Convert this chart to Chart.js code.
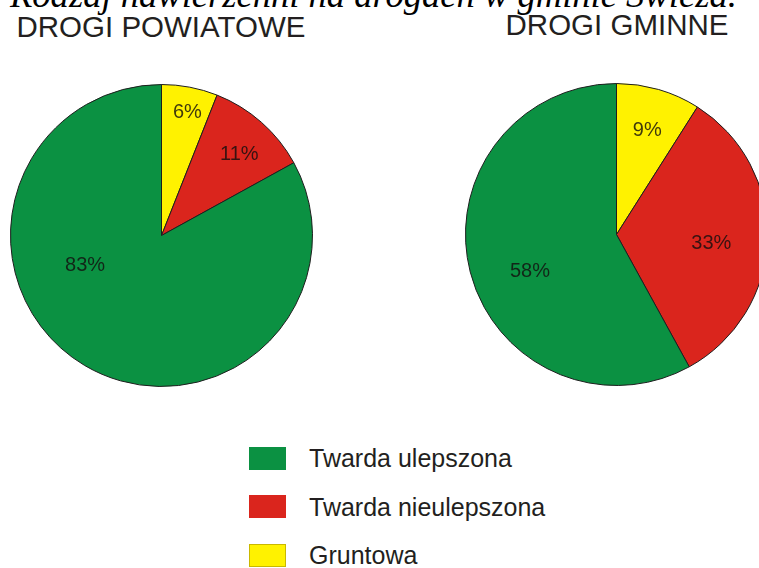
<!DOCTYPE html>
<html>
<head>
<meta charset="utf-8">
<script src="https://cdn.jsdelivr.net/npm/chart.js@4.4.1/dist/chart.umd.min.js"></script>
<style>
  html, body { margin: 0; padding: 0; background: #fff; }
  body { width: 759px; height: 568px; overflow: hidden; position: relative; font-family: "Liberation Sans", Arial, sans-serif; color: #231f20; }
  #title { position: absolute; left: 10px; white-space: nowrap; font-family: "Liberation Serif", "Times New Roman", serif; font-style: italic; line-height: 1; color: #000; }
  .sub { position: absolute; font-size: 29.5px; line-height: 29px; white-space: nowrap; transform: translateX(-50%); }
  .pie { position: absolute; width: 303px; height: 303px; }
  #legend { position: absolute; left: 249px; top: 446px; }
  .row { display: flex; align-items: center; height: 24px; margin-bottom: 24.5px; }
  .box { width: 37px; height: 23px; box-sizing: border-box; margin-right: 23px; }
  .row span { font-size: 25px; line-height: 24px; white-space: nowrap; }
</style>
</head>
<body>
<div id="title">Rodzaj nawierzchni na drogach w gminie Świeża.</div>
<div class="sub" style="left:161px; top:12px;">DROGI POWIATOWE</div>
<div class="sub" style="left:617px; top:10px;">DROGI GMINNE</div>
<div class="pie" style="left:10px; top:84px;"><canvas id="pieLeft" width="303" height="303"></canvas></div>
<div class="pie" style="left:465px; top:83px;"><canvas id="pieRight" width="303" height="303"></canvas></div>
<div id="legend"></div>
<script>
// Data (legend order)
const categories = ['Twarda ulepszona', 'Twarda nieulepszona', 'Gruntowa'];
const powiatowe = [83, 11, 6];   // % drogi powiatowe
const gminne = [58, 33, 9];      // % drogi gminne
const colors = ['#0b9142', '#da251d', '#fff200'];

// fit the title to the width it has in the picture
const title = document.getElementById('title');
title.style.fontSize = '32px';
const fs = 32 * 727 / title.offsetWidth;
title.style.fontSize = fs + 'px';
title.style.top = (8 - 0.8375 * fs) + 'px';

// legend
const legend = document.getElementById('legend');
categories.forEach((name, i) => {
    const row = document.createElement('div');
    row.className = 'row';
    const box = document.createElement('div');
    box.className = 'box';
    box.style.background = colors[i];
    if (i === 2) box.style.border = '1px solid #c9b800';
    const txt = document.createElement('span');
    txt.textContent = name;
    row.appendChild(box);
    row.appendChild(txt);
    legend.appendChild(row);
});

// percent labels inside the slices
const sliceLabels = {
    id: 'sliceLabels',
    afterDatasetsDraw(chart, args, opts) {
        const ctx = chart.ctx;
        const meta = chart.getDatasetMeta(0);
        const values = chart.data.datasets[0].data;
        ctx.save();
        ctx.font = '20px "Liberation Sans", Arial, sans-serif';
        ctx.fillStyle = 'rgba(20, 15, 15, 0.82)';
        ctx.textAlign = 'center';
        ctx.textBaseline = 'alphabetic';
        meta.data.forEach((arc, i) => {
            const p = arc.getProps(['x', 'y', 'startAngle', 'endAngle', 'outerRadius'], true);
            const a = (p.startAngle + p.endAngle) / 2 + opts.shift[i] * Math.PI / 180;
            const r = p.outerRadius * opts.dist[i];
            ctx.fillText(values[i] + '%', p.x + Math.cos(a) * r, p.y + Math.sin(a) * r + 7);
        });
        ctx.restore();
    }
};

// pies run clockwise from the top: Gruntowa, nieulepszona, ulepszona
function makePie(id, values, shift, dist) {
    return new Chart(document.getElementById(id), {
        type: 'pie',
        data: {
            labels: categories.slice().reverse(),
            datasets: [{
                data: values.slice().reverse(),
                backgroundColor: colors.slice().reverse(),
                borderColor: '#1e1e1e',
                borderWidth: 1
            }]
        },
        options: {
            responsive: false,
            animation: false,
            layout: { padding: 0 },
            plugins: {
                legend: { display: false },
                tooltip: { enabled: false },
                sliceLabels: { shift: shift, dist: dist }
            }
        },
        plugins: [sliceLabels]
    });
}

const pieLeft = makePie('pieLeft', powiatowe, [1, 2, 39], [0.84, 0.75, 0.54]);
const pieRight = makePie('pieRight', gminne, [0, 3, -8], [0.73, 0.63, 0.62]);
</script>
</body>
</html>
